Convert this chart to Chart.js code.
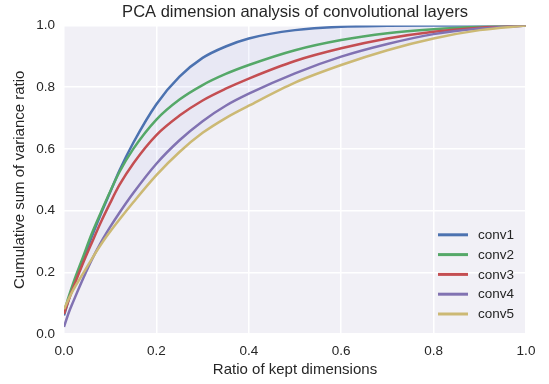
<!DOCTYPE html>
<html>
<head>
<meta charset="utf-8">
<script src="https://cdn.jsdelivr.net/npm/chart.js@4.4.1/dist/chart.umd.min.js"></script>
<style>
html,body{margin:0;padding:0;background:#ffffff;}
#wrap{width:549px;height:384px;}
</style>
</head>
<body>
<div id="wrap"><canvas id="c" width="549" height="384"></canvas></div>
<script>
const titleText = 'PCA dimension analysis of convolutional layers';
const xLabel = 'Ratio of kept dimensions';
const yLabel = 'Cumulative sum of variance ratio';
const seriesNames = ['conv1','conv2','conv3','conv4','conv5'];
const seriesColors = ['#4C72B0','#55A868','#C44E52','#8172B2','#CCB974'];

const ratio = [0,0.01,0.02,0.04,0.06,0.08,0.10,0.12,0.15,0.20,0.25,0.30,0.35,0.40,0.50,0.60,0.70,0.80,0.90,1.00];
const conv1 = [0.06,0.11,0.155,0.235,0.315,0.39,0.46,0.53,0.62,0.745,0.834,0.895,0.932,0.958,0.985,0.996,0.999,1.0,1.0,1.0];
const conv2 = [0.07,0.12,0.165,0.245,0.325,0.395,0.462,0.525,0.60,0.695,0.76,0.807,0.843,0.872,0.92,0.953,0.975,0.988,0.996,1.0];
const conv3 = [0.065,0.11,0.15,0.225,0.295,0.363,0.425,0.483,0.553,0.645,0.708,0.757,0.795,0.828,0.885,0.926,0.958,0.98,0.993,1.0];
const conv4 = [0.023,0.068,0.105,0.175,0.24,0.297,0.347,0.393,0.457,0.552,0.628,0.69,0.74,0.779,0.845,0.899,0.94,0.972,0.99,1.0];
const conv5 = [0.08,0.113,0.143,0.193,0.243,0.29,0.332,0.371,0.427,0.515,0.59,0.652,0.70,0.74,0.815,0.872,0.92,0.958,0.985,1.0];
const seriesValues = [conv1,conv2,conv3,conv4,conv5];
const axisTicks = [0.0,0.2,0.4,0.6,0.8,1.0];

const FONT = '"Liberation Sans", Arial, sans-serif';
const TXT = '#262626';

const datasets = seriesNames.map((name,i)=>({
  label: name,
  data: ratio.map((r,k)=>({x:r, y:seriesValues[i][k]})),
  borderColor: seriesColors[i],
  backgroundColor: 'rgba(110,130,230,0.07)',
  borderWidth: 2.5,
  pointRadius: 0,
  cubicInterpolationMode: 'monotone',
  fill: i===0 ? {target: 4} : false,
  order: seriesNames.length - i
}));

const bgPlugin = {
  id:'bg',
  beforeDraw(chart){
    const {ctx, chartArea:a} = chart;
    ctx.save();
    ctx.fillStyle = '#F1F0F6';
    ctx.fillRect(a.left, a.top, a.right-a.left, a.bottom-a.top);
    ctx.restore();
  },
  afterDraw(chart){
    const {ctx, chartArea:a} = chart;
    ctx.save();
    ctx.fillStyle = TXT;
    ctx.font = '16.5px ' + FONT;
    ctx.textAlign = 'center';
    ctx.textBaseline = 'middle';
    ctx.fillText(titleText, (a.left+a.right)/2, 12);
    // legend
    const n = chart.data.datasets.length;
    ctx.font = '13.5px ' + FONT;
    ctx.textAlign = 'left';
    chart.data.datasets.forEach((ds,i)=>{
      const y = a.bottom - 20 - (n-1-i)*19.8;
      ctx.strokeStyle = ds.borderColor;
      ctx.lineWidth = 3;
      ctx.beginPath();
      ctx.moveTo(a.right-88, y);
      ctx.lineTo(a.right-58, y);
      ctx.stroke();
      ctx.fillStyle = TXT;
      ctx.fillText(ds.label, a.right-48, y+0.5);
    });
    ctx.restore();
  }
};

new Chart(document.getElementById('c'), {
  type:'line',
  data:{datasets},
  plugins:[bgPlugin],
  options:{
    responsive:false,
    animation:false,
    events:[],
    layout:{padding:{top:25.5,right:23,bottom:0,left:0}},
    plugins:{
      legend:{display:false},
      title:{display:false},
      tooltip:{enabled:false},
      filler:{drawTime:'beforeDatasetsDraw'}
    },
    scales:{
      x:{
        type:'linear', min:0, max:1,
        afterBuildTicks(s){ s.ticks = axisTicks.map(v=>({value:v})); },
        afterFit(s){ s.height = 50; },
        grid:{color:'#ffffff', lineWidth:1.5, drawTicks:false},
        border:{display:false},
        ticks:{padding:9, color:TXT, font:{family:FONT, size:13.5}, callback:v=>v.toFixed(1), maxRotation:0},
        title:{display:true, text:xLabel, color:TXT, font:{family:FONT, size:15}, padding:{top:3,bottom:5}}
      },
      y:{
        type:'linear', min:0, max:1,
        afterBuildTicks(s){ s.ticks = axisTicks.map(v=>({value:v})); },
        afterFit(s){ s.width = 64; },
        grid:{color:'#ffffff', lineWidth:1.5, drawTicks:false},
        border:{display:false},
        ticks:{padding:9, color:TXT, font:{family:FONT, size:13.5}, callback:v=>v.toFixed(1)},
        title:{display:true, text:yLabel, color:TXT, font:{family:FONT, size:15}, padding:{top:11,bottom:4}}
      }
    }
  }
});
</script>
</body>
</html>
